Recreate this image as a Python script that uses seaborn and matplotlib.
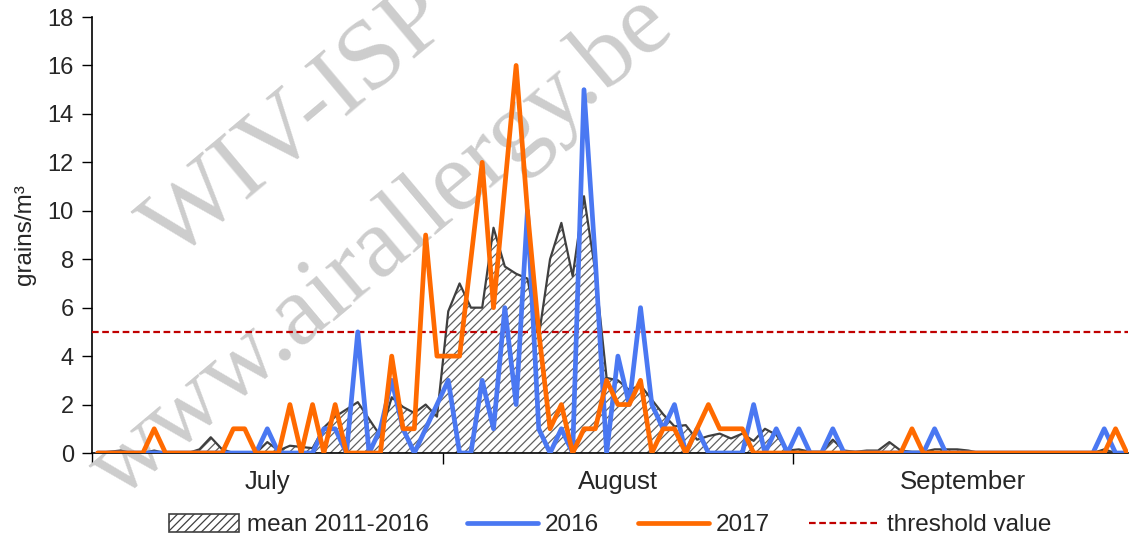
import numpy as np
import pandas as pd
import matplotlib
matplotlib.use("Agg")
import matplotlib.pyplot as plt
import seaborn as sns
from matplotlib.patches import Patch
from matplotlib.lines import Line2D

# ---------------- data ----------------
dates = pd.date_range("2017-07-01", "2017-09-30", freq="D")
month_labels = ["July", "August", "September"]

mean_2011_2016 = [
    0, 0.05, 0.1, 0, 0, 0.1, 0, 0, 0, 0.15,
    0.65, 0.15, 0, 0, 0, 0.45, 0.1, 0.3, 0.25, 0.2,
    1.05, 1.5, 1.8, 2.1, 1.4, 0.7, 2.3, 1.9, 1.65, 2.0,
    1.5, 5.85, 7.0, 6.0, 6.0, 9.3, 7.7, 7.4, 7.2, 4.8,
    8.0, 9.5, 7.3, 10.6, 7.5, 3.1, 3.0, 2.6, 2.8, 2.2,
    1.6, 1.1, 1.15, 0.55, 0.7, 0.8, 0.6, 0.8, 0.5, 1.0,
    0.75, 0.1, 0.15, 0.05, 0.05, 0.55, 0.1, 0.05, 0.1, 0.1,
    0.45, 0.1, 0.05, 0.05, 0.15, 0.15, 0.15, 0.1, 0, 0,
    0, 0, 0, 0, 0, 0, 0, 0, 0, 0.15,
    0, 0,
]

y2016 = [
    0, 0, 0, 0, 0, 0, 0, 0, 0, 0,
    0, 0, 0, 0, 0, 1, 0, 0, 0, 0,
    1, 1, 0, 5, 0, 1, 3, 1, 0, 1,
    2, 3, 0, 0, 3, 1, 6, 2, 10, 1,
    0, 1, 0, 15, 8, 0, 4, 2, 6, 2,
    1, 2, 0, 1, 0, 0, 0, 0, 2, 0,
    1, 0, 1, 0, 0, 1, 0, 0, 0, 0,
    0, 0, 0, 0, 1, 0, 0, 0, 0, 0,
    0, 0, 0, 0, 0, 0, 0, 0, 0, 1,
    0, 0,
]

y2017 = [
    0, 0, 0, 0, 0, 1, 0, 0, 0, 0,
    0, 0, 1, 1, 0, 0, 0, 2, 0, 2,
    0, 2, 0, 0, 0, 0, 4, 1, 1, 9,
    4, 4, 4, 8, 12, 6, 11, 16, 10, 5,
    1, 2, 0, 1, 1, 3, 2, 2, 3, 0,
    1, 1, 0, 1, 2, 1, 1, 1, 0, 0,
    0, 0, 0, 0, 0, 0, 0, 0, 0, 0,
    0, 0, 1, 0, 0, 0, 0, 0, 0, 0,
    0, 0, 0, 0, 0, 0, 0, 0, 0, 0,
    1, 0,
]

threshold = 5
y_ticks = list(range(0, 19, 2))

# ---------------- style ----------------
sns.set_theme(style="white")
plt.rcParams["font.family"] = ["Liberation Sans", "DejaVu Sans"]
plt.rcParams["hatch.linewidth"] = 0.9

BLUE = "#4A78F2"
ORANGE = "#FF6A00"
GREY_EDGE = "#3f3f3f"
HATCH = "#606060"
RED = "#C00000"

df = pd.DataFrame({
    "date": dates,
    "mean": mean_2011_2016,
    "y2016": y2016,
    "y2017": y2017,
})
df["x"] = np.arange(len(df)) + 0.5  # day centred in its slot

fig = plt.figure(figsize=(11.30, 5.41), dpi=100)
ax = fig.add_axes([92 / 1130, 1 - 453 / 541, (1128 - 92) / 1130, (453 - 17) / 541])

# watermark
wm_kw = dict(transform=fig.transFigure, family=["Liberation Serif", "DejaVu Serif"],
             color="#cdcdcd", rotation=40, ha="center", va="center",
             rotation_mode="anchor", fontsize=72, zorder=1, clip_on=False)
ax.text(298 / 1130, 1 - 125 / 541, "WIV-ISP", **wm_kw)
ax.text(382 / 1130, 1 - 248 / 541, "www.airallergy.be", **wm_kw)

# hatched mean area
ax.fill_between(df["x"], df["mean"], 0, facecolor="none", edgecolor=HATCH,
                hatch="////", linewidth=0, zorder=2)
sns.lineplot(data=df, x="x", y="mean", color=GREY_EDGE, linewidth=1.6, ax=ax, zorder=3)

# threshold
ax.axhline(threshold, color=RED, linestyle=(0, (3, 1.6)), linewidth=1.6, zorder=3)

sns.lineplot(data=df, x="x", y="y2016", color=BLUE, linewidth=3.4, ax=ax, zorder=4)
sns.lineplot(data=df, x="x", y="y2017", color=ORANGE, linewidth=3.4, ax=ax, zorder=5)

# axes
ax.set_ylim(0, 18)
ax.set_xlim(0, 91.6)
ax.set_yticks(y_ticks)
ax.set_yticklabels([str(t) for t in y_ticks], fontsize=17)
ax.tick_params(axis="y", direction="out", length=7, width=1, color="black", pad=6, left=True)

month_start = [i for i, d in enumerate(dates) if d.day == 1]
bounds = month_start + [len(dates)]
centers = [(bounds[i] + bounds[i + 1]) / 2 for i in range(len(month_labels))]
ax.set_xticks(bounds[:-1])
ax.set_xticklabels([])
ax.tick_params(axis="x", which="major", direction="out", length=8, width=1, color="black", bottom=True)
ax.set_xticks(centers, minor=True)
ax.set_xticklabels(month_labels, minor=True, fontsize=18.5)
ax.tick_params(axis="x", which="minor", length=0, pad=12)

ax.set_xlabel("")
ax.set_ylabel("grains/m³", fontsize=17.5, labelpad=8)
for s in ["top", "right"]:
    ax.spines[s].set_visible(False)
for s in ["left", "bottom"]:
    ax.spines[s].set_color("black")
    ax.spines[s].set_linewidth(1.2)
ax.grid(False)

handles = [
    Patch(facecolor="white", edgecolor=GREY_EDGE, hatch="////", linewidth=1.2),
    Line2D([], [], color=BLUE, linewidth=3.4),
    Line2D([], [], color=ORANGE, linewidth=3.4),
    Line2D([], [], color=RED, linewidth=1.6, linestyle=(0, (3, 1.6))),
]
labels = ["mean 2011-2016", "2016", "2017", "threshold value"]
leg = ax.legend(handles, labels, loc="center", bbox_to_anchor=(610 / 1130, 16 / 541),
                bbox_transform=fig.transFigure, ncol=4, frameon=False, fontsize=17.5,
                handlelength=2.9, handleheight=0.8, handletextpad=0.3, columnspacing=1.6)

fig.savefig("out.png", dpi=100)
